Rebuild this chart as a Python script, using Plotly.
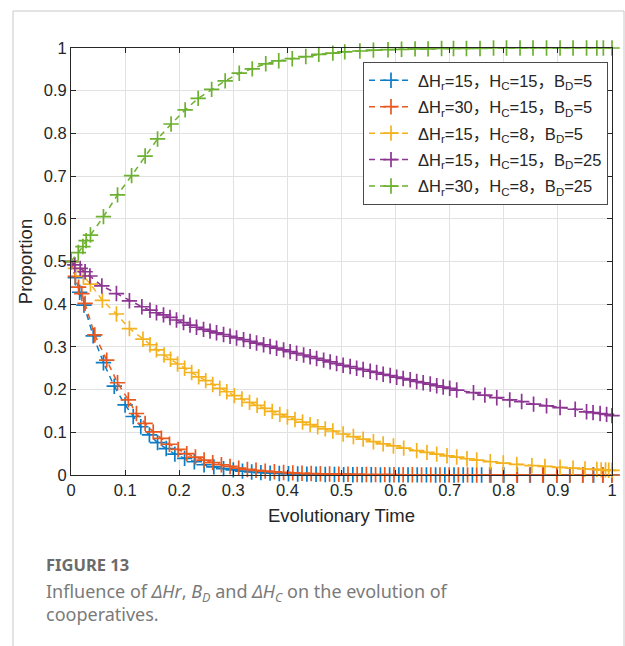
import plotly.graph_objects as go

# ---------------- data ----------------
legend_names = [
    "ΔH<sub>r</sub>=15，H<sub>C</sub>=15，B<sub>D</sub>=5",
    "ΔH<sub>r</sub>=30，H<sub>C</sub>=15，B<sub>D</sub>=5",
    "ΔH<sub>r</sub>=15，H<sub>C</sub>=8，B<sub>D</sub>=5",
    "ΔH<sub>r</sub>=15，H<sub>C</sub>=15，B<sub>D</sub>=25",
    "ΔH<sub>r</sub>=30，H<sub>C</sub>=8，B<sub>D</sub>=25",
]
colors = ["#0b7dc4", "#e9581f", "#f4b21e", "#8c3593", "#6cb12f"]

blue_x = [0, 0.008, 0.016, 0.024, 0.041, 0.060, 0.080, 0.100, 0.115, 0.129, 0.145, 0.160,
          0.176, 0.192, 0.210, 0.228, 0.246, 0.264, 0.282, 0.300, 0.317, 0.334, 0.351, 0.368,
          0.385, 0.402, 0.419, 0.436, 0.453, 0.470, 0.487, 0.504, 0.521, 0.538, 0.555, 0.572,
          0.589, 0.606, 0.623, 0.640, 0.657, 0.674, 0.691, 0.708, 0.725, 0.742, 0.759, 0.776,
          0.800, 0.825, 0.849, 0.873, 0.898, 0.922, 0.946, 0.966, 0.983, 1.0]
blue_y = [0.5, 0.462, 0.428, 0.398, 0.326, 0.263, 0.208, 0.164, 0.137, 0.113, 0.094, 0.076,
          0.062, 0.049, 0.039, 0.031, 0.024, 0.019, 0.015, 0.012, 0.009, 0.007, 0.0055, 0.0045,
          0.0035, 0.003, 0.0024, 0.002, 0.0016, 0.0013, 0.0011, 0.0009, 0.0007, 0.0006, 0.0005, 0.0004,
          0.0003, 0.0003, 0.0002, 0.0002, 0.0002, 0.0001, 0.0001, 0.0001, 0.0001, 0.0001, 0.0001, 0,
          0, 0, 0, 0, 0, 0, 0, 0, 0, 0]

red_x = [0, 0.008, 0.014, 0.020, 0.026, 0.044, 0.066, 0.086, 0.106, 0.121, 0.137, 0.152,
         0.167, 0.182, 0.198, 0.214, 0.230, 0.246, 0.262, 0.278, 0.294, 0.310, 0.326, 0.342,
         0.359, 0.376, 0.393, 0.410, 0.427, 0.444, 0.461, 0.478, 0.495, 0.512, 0.529, 0.546,
         0.563, 0.580, 0.597, 0.614, 0.631, 0.648, 0.665, 0.682, 0.699, 0.716, 0.733, 0.750,
         0.774, 0.799, 0.824, 0.848, 0.872, 0.898, 0.922, 0.946, 0.965, 0.983, 1.0]
red_y = [0.5, 0.465, 0.44, 0.425, 0.402, 0.328, 0.269, 0.216, 0.176, 0.144, 0.121, 0.101,
         0.086, 0.072, 0.060, 0.050, 0.042, 0.035, 0.029, 0.024, 0.020, 0.016, 0.013, 0.011,
         0.009, 0.0075, 0.006, 0.005, 0.004, 0.0034, 0.0028, 0.0023, 0.0019, 0.0016, 0.0013, 0.0011,
         0.0009, 0.0008, 0.0007, 0.0006, 0.0005, 0.0004, 0.0003, 0.0003, 0.0002, 0.0002, 0.0002, 0.0001,
         0.0001, 0.0001, 0.0001, 0, 0, 0, 0, 0, 0, 0, 0]

orange_x = [0, 0.008, 0.023, 0.036, 0.058, 0.084, 0.108, 0.133, 0.146, 0.158, 0.172, 0.184,
            0.197, 0.210, 0.223, 0.236, 0.249, 0.262, 0.275, 0.288, 0.302, 0.316, 0.330, 0.344,
            0.358, 0.372, 0.386, 0.400, 0.414, 0.428, 0.442, 0.456, 0.470, 0.484, 0.503, 0.522,
            0.540, 0.559, 0.577, 0.596, 0.615, 0.639, 0.658, 0.676, 0.695, 0.713, 0.732, 0.750,
            0.775, 0.799, 0.824, 0.852, 0.876, 0.904, 0.928, 0.950, 0.972, 0.980, 0.988, 0.994, 1.0]
orange_y = [0.5, 0.484, 0.466, 0.447, 0.409, 0.377, 0.343, 0.318, 0.305, 0.293, 0.281, 0.271,
            0.260, 0.250, 0.240, 0.230, 0.221, 0.212, 0.203, 0.195, 0.186, 0.178, 0.170, 0.163,
            0.156, 0.149, 0.142, 0.136, 0.130, 0.124, 0.118, 0.113, 0.108, 0.103, 0.096, 0.090,
            0.084, 0.078, 0.073, 0.068, 0.063, 0.057, 0.053, 0.049, 0.045, 0.042, 0.038, 0.035,
            0.031, 0.028, 0.025, 0.022, 0.020, 0.018, 0.016, 0.014, 0.013, 0.012, 0.012, 0.011, 0.011]

purple_x = [0, 0.007, 0.017, 0.026, 0.035, 0.057, 0.084, 0.108, 0.131, 0.146, 0.158, 0.171,
            0.183, 0.195, 0.208, 0.220, 0.232, 0.245, 0.257, 0.269, 0.282, 0.294, 0.306, 0.319,
            0.331, 0.343, 0.356, 0.368, 0.380, 0.393, 0.405, 0.417, 0.430, 0.442, 0.454, 0.467,
            0.479, 0.491, 0.503, 0.516, 0.528, 0.540, 0.553, 0.565, 0.577, 0.590, 0.602, 0.614,
            0.627, 0.639, 0.651, 0.664, 0.676, 0.688, 0.700, 0.713, 0.744, 0.765, 0.787, 0.811,
            0.833, 0.855, 0.879, 0.904, 0.932, 0.953, 0.965, 0.978, 0.990, 1.0]
purple_y = [0.5, 0.492, 0.484, 0.476, 0.466, 0.443, 0.425, 0.408, 0.394, 0.386, 0.380, 0.375,
            0.369, 0.363, 0.357, 0.351, 0.346, 0.341, 0.337, 0.333, 0.329, 0.325, 0.321, 0.317,
            0.313, 0.309, 0.305, 0.301, 0.297, 0.293, 0.289, 0.285, 0.281, 0.277, 0.273, 0.269,
            0.265, 0.261, 0.257, 0.254, 0.250, 0.247, 0.243, 0.240, 0.236, 0.233, 0.229, 0.226,
            0.223, 0.219, 0.216, 0.213, 0.209, 0.206, 0.203, 0.199, 0.193, 0.187, 0.181, 0.176,
            0.172, 0.166, 0.162, 0.158, 0.154, 0.148, 0.146, 0.144, 0.142, 0.139]

green_x = [0, 0.0135, 0.022, 0.028, 0.036, 0.060, 0.086, 0.112, 0.137, 0.160, 0.185, 0.211,
           0.235, 0.260, 0.285, 0.311, 0.335, 0.360, 0.384, 0.409, 0.434, 0.458, 0.484, 0.506,
           0.534, 0.559, 0.586, 0.611, 0.636, 0.660, 0.685, 0.707, 0.731, 0.756, 0.781, 0.805,
           0.830, 0.854, 0.879, 0.904, 0.928, 0.953, 0.972, 0.984, 1.0]
green_y = [0.5, 0.521, 0.535, 0.549, 0.562, 0.605, 0.656, 0.701, 0.747, 0.787, 0.822, 0.855,
           0.882, 0.903, 0.923, 0.941, 0.951, 0.963, 0.970, 0.975, 0.980, 0.985, 0.988, 0.991,
           0.993, 0.995, 0.996, 0.997, 0.998, 0.998, 0.999, 0.999, 0.999, 0.999, 1.0, 1.0,
           1.0, 1.0, 1.0, 1.0, 1.0, 1.0, 1.0, 1.0, 1.0]

tick_vals = [0, 0.1, 0.2, 0.3, 0.4, 0.5, 0.6, 0.7, 0.8, 0.9, 1]
tick_text = ["0", "0.1", "0.2", "0.3", "0.4", "0.5", "0.6", "0.7", "0.8", "0.9", "1"]

series = [(blue_x, blue_y), (red_x, red_y), (orange_x, orange_y),
          (purple_x, purple_y), (green_x, green_y)]

# ---------------- layout geometry (pixels) ----------------
W, H = 625, 646
L, R, T, B = 71, 612, 48, 475   # plot area edges in px
pw, ph = R - L, B - T

def px_x(x):
    return (x - L) / pw

def px_y(y):
    return (B - y) / ph

FONT = "'Liberation Sans', Arial, 'Noto Sans CJK SC', sans-serif"
AX = "#262626"

fig = go.Figure()
for i, ((xs, ys), name, c) in enumerate(zip(series, legend_names, colors)):
    fig.add_trace(go.Scatter(
        x=xs, y=ys, name=name, mode="lines+markers",
        line=dict(color=c, width=1.5, dash="6px,5px"),
        marker=dict(symbol="cross-thin", size=11, color=c,
                    line=dict(color=c, width=1.7)),
        cliponaxis=False, legendgroup=f"g{i}",
    ))

axis_common = dict(
    range=[0, 1], tickvals=tick_vals, ticktext=tick_text,
    showline=True, linecolor=AX, linewidth=1, mirror="ticks",
    ticks="inside", ticklen=5, tickcolor=AX, tickwidth=1,
    showgrid=True, gridcolor="#e1e1e1", gridwidth=1, zeroline=False,
    tickfont=dict(family=FONT, size=16.5, color=AX),
)

fig.update_layout(
    width=W, height=H,
    margin=dict(l=L, r=W - R, t=T, b=H - B, autoexpand=False),
    paper_bgcolor="white", plot_bgcolor="white",
    showlegend=True,
    xaxis=dict(axis_common, title=dict(text="Evolutionary Time",
               font=dict(family=FONT, size=18.5, color=AX), standoff=11)),
    yaxis=dict(axis_common, title=dict(text="Proportion",
               font=dict(family=FONT, size=18.5, color=AX), standoff=6)),
    legend=dict(
        x=px_x(363), y=px_y(62), xanchor="left", yanchor="top",
        bgcolor="white", bordercolor="#4a4a4a", borderwidth=1,
        font=dict(family=FONT, size=16.5, color=AX),
        tracegroupgap=2, itemwidth=44,
    ),
)

# outer frame of the figure panel
fig.add_shape(type="rect", xref="paper", yref="paper",
              x0=px_x(13), x1=px_x(624), y0=px_y(700), y1=px_y(11),
              line=dict(color="#c8c8c8", width=1), fillcolor="rgba(0,0,0,0)",
              layer="below")

CAP = "'Noto Sans', 'Open Sans', sans-serif"
fig.add_annotation(xref="paper", yref="paper", x=px_x(44), y=px_y(564),
                   xanchor="left", yanchor="middle", showarrow=False,
                   text="<b>FIGURE 13</b>",
                   font=dict(family=CAP, size=16.5, color="#6b6b6b"))
fig.add_annotation(xref="paper", yref="paper", x=px_x(44), y=px_y(577),
                   xanchor="left", yanchor="top", showarrow=False, align="left",
                   text="Influence of <i>ΔHr</i>, <i>B<sub>D</sub></i> and <i>ΔH<sub>C</sub></i> on the evolution of"
                        "<br>cooperatives.",
                   font=dict(family=CAP, size=18, color="#7a7a7a"))

fig.write_html("out.html")
